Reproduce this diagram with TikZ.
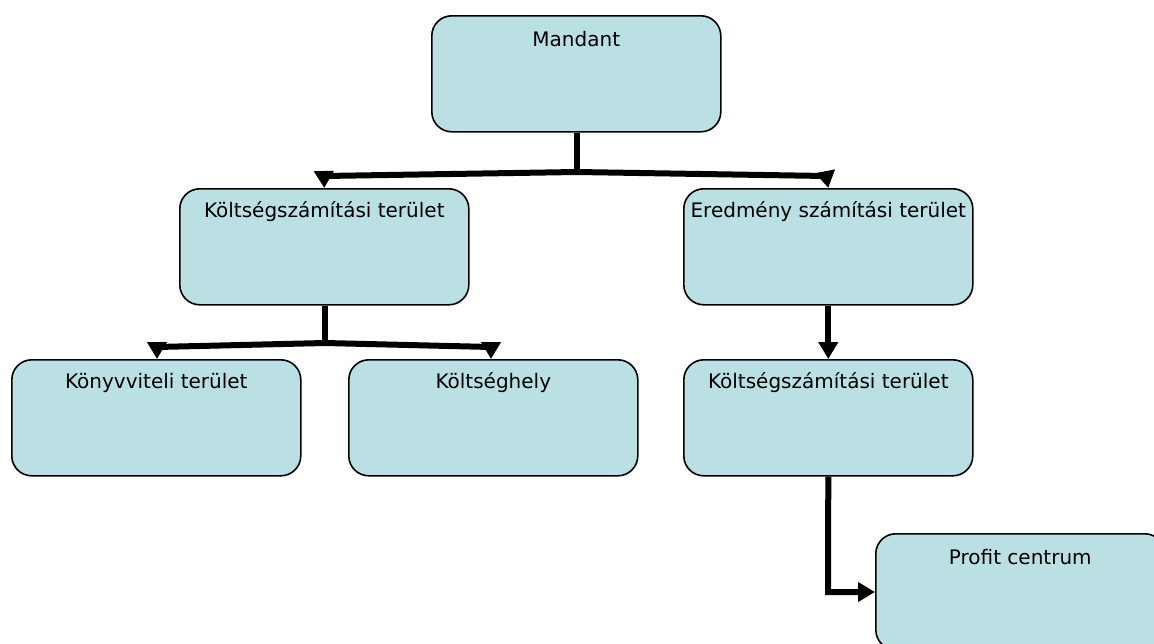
\documentclass[tikz,border=0pt]{standalone}
\usepackage{fontspec}
\setmainfont{DejaVu Sans}
\usetikzlibrary{arrows.meta}
\definecolor{boxfill}{HTML}{BBE0E3}
\begin{document}
\begin{tikzpicture}[x=1pt,y=-1pt,
  box/.style={draw=black, line width=1.6pt, fill=boxfill, rounded corners=20pt,
    minimum width=289pt, minimum height=116pt, anchor=north west, inner sep=0pt},
  lbl/.style={font=\fontsize{20}{24}\selectfont, anchor=center, yshift=-24pt, inner sep=0pt},
  conn/.style={line width=6pt, line join=miter},
  tipline/.style={line width=6pt, line join=miter, -{Triangle[length=17pt,width=19pt]}}
]
\clip (0,0) rectangle (1154,643);
% boxes
\node[box, label={[lbl]north:Mandant}] (mandant) at (431,15) {};
\node[box, label={[lbl]north:Költségszámítási terület}] (kszt1) at (179,188) {};
\node[box, label={[lbl]north:Eredmény számítási terület}] (erd) at (683,188) {};
\node[box, label={[lbl]north:Könyvviteli terület}] (konyv) at (11,359) {};
\node[box, label={[lbl]north:Költséghely}] (khely) at (348,359) {};
\node[box, label={[lbl]north:Költségszámítási terület}] (kszt2) at (683,359) {};
\node[box, label={[lbl]north:Profit centrum}] (profit) at (875,533) {};
% top branch
\coordinate (j1) at (577,172);
\coordinate (l1) at (324,176);
\coordinate (r1) at (826,176);
\draw[conn] (mandant.south -| j1) -- (j1);
\draw[conn] (l1) -- (j1) -- (r1);
\draw[tipline] (l1) -- (kszt1.north);
\draw[tipline] (r1) -- (erd.north);
% lower-left branch
\coordinate (j2) at (325,343);
\coordinate (l2) at (157,347);
\coordinate (r2) at (491,347);
\draw[conn] (kszt1.south -| j2) -- (j2);
\draw[conn] (l2) -- (j2) -- (r2);
\draw[tipline] (l2) -- (l2 |- konyv.north);
\draw[tipline] (r2) -- (r2 |- khely.north);
% right chain
\draw[tipline] (erd.south) -- (kszt2.north);
\coordinate (c1) at (828,592);
\draw[tipline] (kszt2.south) -- (c1) -- (c1 -| profit.west);
\end{tikzpicture}
\end{document}
